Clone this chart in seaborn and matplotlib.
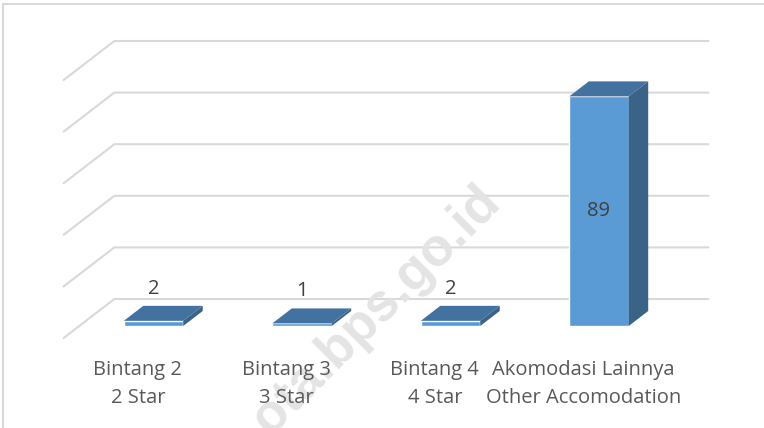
import numpy as np
import pandas as pd
import matplotlib
matplotlib.use("Agg")
import matplotlib.pyplot as plt
import seaborn as sns
from matplotlib.patches import Polygon
from matplotlib.lines import Line2D
from matplotlib.transforms import IdentityTransform

# data
categories_id = ["Bintang 2", "Bintang 3", "Bintang 4", "Akomodasi Lainnya"]
categories_en = ["2 Star", "3 Star", "4 Star", "Other Accomodation"]
values = [2, 1, 2, 89]
y_ticks = [0, 20, 40, 60, 80, 100]

FRONT = "#5B9BD5"
TOP = "#4472A0"
SIDE = "#3A6387"
GRID = "#D9D9D9"
LABEL = "#595959"
VALUE = "#404040"

sns.set_theme(style="white")
plt.rcParams["font.family"] = ["Open Sans", "DejaVu Sans"]

fig = plt.figure(figsize=(7.64, 4.28), dpi=100)
ax = fig.add_axes([79.25 / 764, 102 / 428, 594 / 764, 258 / 428])

df = pd.DataFrame({"category": categories_id, "value": values})
sns.barplot(data=df, x="category", y="value", color=FRONT, width=0.4,
            saturation=1, ax=ax, zorder=3)
ax.set_xlim(-0.5, 3.5)
ax.set_ylim(0, 100)
ax.axis("off")

# fake 3D: screen shift (px) for one px of depth
DEPTH = np.array([1.3, 1.0])
FLOOR_D, BAR_D, WALL_D = -12, 15, 27
ident = IdentityTransform()


def proj(x, y, d):
    return ax.transData.transform((x, y)) + d * DEPTH


# back wall gridlines with the floor diagonal on the left
xmin, xmax = ax.get_xlim()
for v in y_ticks:
    a, b, c = proj(xmin, v, FLOOR_D), proj(xmin, v, WALL_D), proj(xmax, v, WALL_D)
    ax.add_line(Line2D([a[0], b[0], c[0]], [a[1], b[1], c[1]], transform=ident,
                       color=GRID, lw=1.5, zorder=1, clip_on=False))

# watermark
ax.text(376 / 764, 1 - 310 / 428, "ota.bps.go.id", transform=fig.transFigure,
        rotation=45, ha="center", va="center", fontsize=38, fontweight="bold",
        family="Liberation Sans", color="#E4E4E4", zorder=2)

bars = list(ax.patches)
for p, v in zip(bars, values):
    x0, w, h = p.get_x(), p.get_width(), p.get_height()
    x1 = x0 + w
    top = [proj(x0, h, 0), proj(x1, h, 0), proj(x1, h, BAR_D), proj(x0, h, BAR_D)]
    side = [proj(x1, 0, 0), proj(x1, h, 0), proj(x1, h, BAR_D), proj(x1, 0, BAR_D)]
    ax.add_patch(Polygon(top, closed=True, transform=ident, facecolor=TOP,
                         edgecolor="none", zorder=3, clip_on=False))
    ax.add_patch(Polygon(side, closed=True, transform=ident, facecolor=SIDE,
                         edgecolor="none", zorder=3, clip_on=False))
    cx = x0 + w / 2
    if v > 50:
        pos = proj(cx, v / 2, 0)
        ax.text(pos[0], pos[1], str(v), transform=ident, ha="center", va="center",
                fontsize=14.5, color=VALUE, zorder=4)
    else:
        pos = proj(cx, v, 0)
        ax.text(pos[0], pos[1] + 27, str(v), transform=ident, ha="center",
                va="baseline", fontsize=14.5, color=VALUE, zorder=4)

# category labels along the front edge of the floor
for i, (l1, l2) in enumerate(zip(categories_id, categories_en)):
    pos = proj(i, 0, FLOOR_D)
    ax.text(pos[0], pos[1] - 37, l1, transform=ident, ha="center", va="baseline",
            fontsize=14.5, color=LABEL, zorder=4)
    ax.text(pos[0], pos[1] - 65, l2, transform=ident, ha="center", va="baseline",
            fontsize=14.5, color=LABEL, zorder=4)

# chart frame (only left and top edges are inside the crop)
fx, fy = 3.5 / 764, 1 - 4 / 428
fig.add_artist(Line2D([fx, fx, 1], [0, fy, fy], transform=fig.transFigure,
                      color=GRID, lw=1.5))

fig.savefig("out.png", dpi=100, facecolor="white")
